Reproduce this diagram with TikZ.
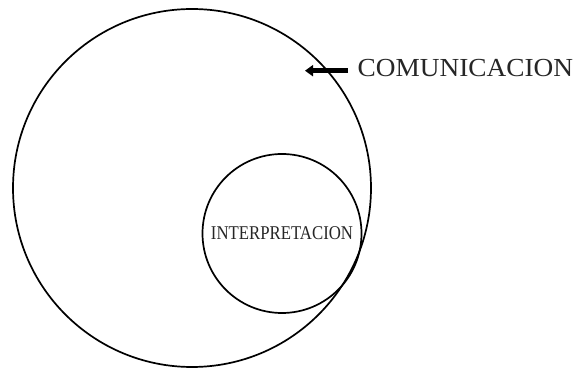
\documentclass[tikz,border=0pt]{standalone}
\usepackage{fontspec}
\setmainfont{Liberation Serif}
\usetikzlibrary{arrows.meta}
\begin{document}
\begin{tikzpicture}[x=1pt,y=1pt,
  ring/.style={circle,draw=black,line width=1.7pt,inner sep=0pt},
  lbl/.style={text=black!85,inner sep=0pt}]
\useasboundingbox (0,0) rectangle (582,369);
\node[ring,minimum size=358pt] (big) at (192,181) {};
\node[ring,minimum size=159pt,text=black!85] (interp) at (282,135.5)
  {\fontsize{19.5}{20}\selectfont\scalebox{0.86}[1]{INTERPRETACION}};
\node[lbl,anchor=base west] (com) at (357.5,292)
  {\fontsize{26}{28}\selectfont\scalebox{1.05}[1]{COMUNICACION}};
\coordinate (tail) at (348,298.3);
\coordinate (tip) at (305,298.3);
\draw[line width=4.5pt,-{Triangle[length=8pt,width=11pt]}] (tail) -- (tip);
\end{tikzpicture}
\end{document}
